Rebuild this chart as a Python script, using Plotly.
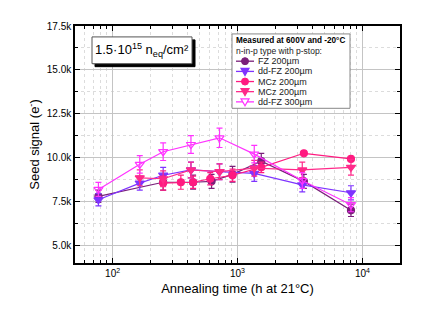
import plotly.graph_objects as go

# ---- data ----
fz200_x = [77, 254, 441, 620, 912, 1550, 3400, 8100]
fz200_y = [7800, 8600, 8600, 8650, 9050, 9800, 8650, 7000]
fz200_e = [350, 450, 400, 400, 450, 450, 400, 350]

ddfz200_x = [77, 165, 254, 424, 718, 1362, 3300, 8100]
ddfz200_y = [7600, 8550, 9000, 9300, 9200, 9100, 8450, 8000]
ddfz200_e = [350, 400, 450, 450, 450, 450, 400, 400]

mczc_x = [254, 352, 441, 605, 912, 1550, 3400, 8100]
mczc_y = [8550, 8600, 8600, 8800, 9000, 9450, 10250, 9930]
mczc_e = [400, 400, 350, 350, 350, 300, 0, 0]

mczt_x = [165, 254, 424, 718, 1362, 3300, 8100]
mczt_y = [8850, 8800, 9300, 9200, 9400, 9300, 9450]
mczt_e = [450, 450, 450, 450, 450, 450, 450]

ddfz300_x = [77, 165, 254, 424, 718, 1362, 3300, 8100]
ddfz300_y = [8190, 9620, 10340, 10750, 11130, 10200, 8700, 7320]
ddfz300_e = [400, 500, 500, 500, 550, 500, 450, 400]

y_ticks = [5000, 7500, 10000, 12500, 15000, 17500]
y_labels = ["5.0k", "7.5k", "10.0k", "12.5k", "15.0k", "17.5k"]
x_ticks = [100, 1000, 10000]
x_labels = ["10<sup>2</sup>", "10<sup>3</sup>", "10<sup>4</sup>"]
x_minor = [50, 60, 70, 80, 90] + [m * 100 for m in range(2, 10)] + \
          [m * 1000 for m in range(2, 10)] + [20000]

series = [
    ("FZ 200µm", fz200_x, fz200_y, fz200_e, "#7a1f7a", "circle"),
    ("dd-FZ 200µm", ddfz200_x, ddfz200_y, ddfz200_e, "#7f33ff", "triangle-down"),
    ("MCz 200µm", mczc_x, mczc_y, mczc_e, "#ff1a80", "circle"),
    ("MCz 200µm", mczt_x, mczt_y, mczt_e, "#ff2a8a", "triangle-down"),
    ("dd-FZ 300µm", ddfz300_x, ddfz300_y, ddfz300_e, "#ff33ff", "triangle-down-open"),
]

fig = go.Figure()
for name, x, y, e, c, sym in series:
    fig.add_trace(go.Scatter(
        x=x, y=y, name=name, mode="lines+markers", showlegend=False,
        line=dict(color=c, width=1.2),
        marker=dict(symbol=sym, size=7 if sym == "circle" else 8, color=c,
                    line=dict(color=c, width=1.2)),
        error_y=dict(type="data", array=e, color=c, thickness=1.2, width=3),
    ))

# page body has an 8px default margin: figure is offset by (8, 8)
font = "Liberation Sans, Arial, sans-serif"
fig.update_layout(
    width=416, height=310,
    margin=dict(l=67, r=24, t=16, b=55),
    paper_bgcolor="white", plot_bgcolor="white",
    font=dict(family=font, size=10, color="black"),
    showlegend=False,
    xaxis=dict(
        type="log", range=[1.699, 4.301],
        tickvals=x_ticks, ticktext=x_labels,
        showgrid=True, gridcolor="#c4c4c4", gridwidth=1,
        minor=dict(tickvals=x_minor, ticks="inside", ticklen=3, showgrid=True,
                   gridcolor="#dcdcdc", griddash="dot", tickcolor="black"),
        ticks="inside", ticklen=5, tickcolor="black",
        showline=True, linecolor="black", linewidth=1.5, mirror="allticks",
        title=dict(text="Annealing time (h at 21°C)", font=dict(size=13, family=font), standoff=6),
        tickfont=dict(size=10),
        zeroline=False,
    ),
    yaxis=dict(
        range=[4000, 17500],
        tickvals=y_ticks, ticktext=y_labels,
        showgrid=True, gridcolor="#c4c4c4", gridwidth=1,
        minor=dict(dtick=1250, tick0=0, ticks="inside", ticklen=3, showgrid=True,
                   gridcolor="#dcdcdc", griddash="dot", tickcolor="black"),
        ticks="inside", ticklen=5, tickcolor="black",
        showline=True, linecolor="black", linewidth=1.5, mirror="allticks",
        title=dict(text="Seed signal (e<sup>-</sup>)", font=dict(size=13, family=font), standoff=4),
        tickfont=dict(size=10),
        zeroline=False,
    ),
)

# ---- helpers: screen pixel of plot area -> paper coords ----
L, R, T, B = 75, 400, 24, 263
def px(xp):
    return (xp - L) / (R - L)
def py(yp):
    return 1 - (yp - T) / (B - T)

# shadowed fluence label
fig.add_shape(type="rect", xref="paper", yref="paper",
              x0=px(95), x1=px(195), y0=py(65), y1=py(38),
              fillcolor="black", line=dict(color="black", width=1))
fig.add_shape(type="rect", xref="paper", yref="paper",
              x0=px(92), x1=px(192), y0=py(62), y1=py(35),
              fillcolor="white", line=dict(color="#555555", width=1))
fig.add_annotation(xref="paper", yref="paper", x=px(142), y=py(48.5),
                   text="1.5·10<sup>15</sup> n<sub>eq</sub>/cm²",
                   showarrow=False, font=dict(size=13, family=font),
                   xanchor="center", yanchor="middle")

# ---- custom compact legend ----
fig.add_shape(type="rect", xref="paper", yref="paper",
              x0=px(232), x1=px(350), y0=py(107), y1=py(32),
              fillcolor="white", line=dict(color="#888888", width=1))
fig.add_annotation(xref="paper", yref="paper", x=px(234), y=py(38.5),
                   text="<b>Measured at 600V and -20°C</b>", showarrow=False,
                   font=dict(size=8.2, family=font), xanchor="left", yanchor="middle")
fig.add_annotation(xref="paper", yref="paper", x=px(234), y=py(49),
                   text="n-in-p type with p-stop:", showarrow=False,
                   font=dict(size=8.5, family=font, color="#222222"),
                   xanchor="left", yanchor="middle")

rows = [59.5, 69.8, 80, 90.2, 100.5]
tri_down = "M -4,3 L 4,3 L 0,-4 Z"
for (name, _x, _y, _e, c, sym), ry in zip(series, rows):
    fig.add_shape(type="line", xref="paper", yref="paper",
                  x0=px(236), x1=px(254), y0=py(ry), y1=py(ry),
                  line=dict(color=c, width=1.3))
    if sym == "circle":
        fig.add_shape(type="circle", xref="paper", yref="paper",
                      xsizemode="pixel", ysizemode="pixel",
                      xanchor=px(245), yanchor=py(ry),
                      x0=-3.5, x1=3.5, y0=-3.5, y1=3.5,
                      fillcolor=c, line=dict(color=c, width=1))
    else:
        fill = "white" if sym.endswith("open") else c
        fig.add_shape(type="path", xref="paper", yref="paper",
                      xsizemode="pixel", ysizemode="pixel",
                      xanchor=px(245), yanchor=py(ry),
                      path=tri_down, fillcolor=fill, line=dict(color=c, width=1.2))
    fig.add_annotation(xref="paper", yref="paper", x=px(256), y=py(ry),
                       text=name, showarrow=False,
                       font=dict(size=9, family=font, color="#222222"),
                       xanchor="left", yanchor="middle")

fig.write_html("out.html")
